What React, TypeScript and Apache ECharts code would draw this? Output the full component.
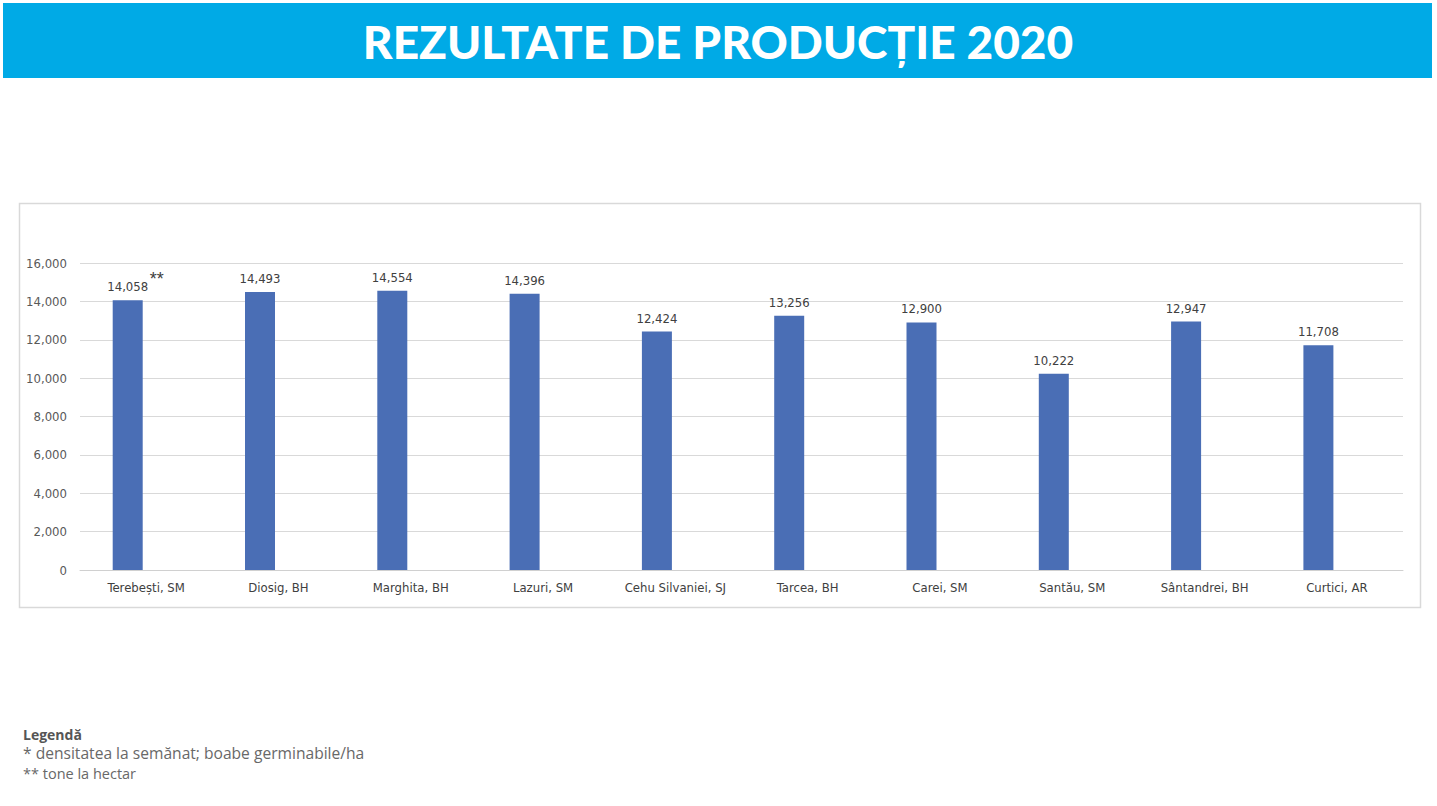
import React, { useEffect, useRef } from "react";
import * as echarts from "echarts";

const TITLE = "REZULTATE DE PRODUCȚIE 2020";
const categories = [
  "Terebești, SM",
  "Diosig, BH",
  "Marghita, BH",
  "Lazuri, SM",
  "Cehu Silvaniei, SJ",
  "Tarcea, BH",
  "Carei, SM",
  "Santău, SM",
  "Sântandrei, BH",
  "Curtici, AR",
];
const production = [14058, 14493, 14554, 14396, 12424, 13256, 12900, 10222, 12947, 11708];
const emptySeries = categories.map(() => null);
const yTicks = { min: 0, max: 16000, interval: 2000 };
const legendTitle = "Legendă";
const legendLines = ["* densitatea la semănat; boabe germinabile/ha", "** tone la hectar"];
const markNote = "**";

const fmt = (v: number) => v.toLocaleString("en-US");

export default function App() {
  const ref = useRef<HTMLDivElement>(null);
  useEffect(() => {
    if (!ref.current) return;
    const chart = echarts.init(ref.current, null, { renderer: "svg" });
    const narrow = "'Liberation Sans Narrow', 'DejaVu Sans Condensed', Arial, sans-serif";
    chart.setOption({
      animation: false,
      backgroundColor: "#ffffff",
      graphic: [
        {
          type: "rect",
          shape: { x: 3, y: 3, width: 1429, height: 75 },
          style: { fill: "#00AAE6" },
          z: 0,
        },
        {
          type: "text",
          x: 718,
          y: 41,
          style: {
            text: TITLE,
            fill: "#ffffff",
            font: "900 46px Lato, 'Open Sans', sans-serif",
            textAlign: "center",
            textVerticalAlign: "middle",
          },
          z: 1,
        },
        {
          type: "rect",
          shape: { x: 19.5, y: 203.5, width: 1401, height: 404 },
          style: { fill: "#ffffff", stroke: "#d9d9d9", lineWidth: 1.5 },
          z: -1,
        },
        {
          type: "text",
          x: 23,
          y: 734,
          style: {
            text: legendTitle,
            fill: "#555555",
            font: "bold 14px 'Open Sans', Lato, sans-serif",
            textVerticalAlign: "middle",
          },
        },
        {
          type: "text",
          x: 23,
          y: 753,
          style: {
            text: legendLines[0],
            fill: "#686868",
            font: "15.6px 'Open Sans', Lato, sans-serif",
            textVerticalAlign: "middle",
          },
        },
        {
          type: "text",
          x: 23,
          y: 773,
          style: {
            text: legendLines[1],
            fill: "#686868",
            font: "14.5px 'Open Sans', Lato, sans-serif",
            textVerticalAlign: "middle",
          },
        },
      ],
      grid: { left: 80, right: 34, top: 263, bottom: 236, containLabel: false },
      xAxis: {
        type: "category",
        data: categories,
        axisLine: { lineStyle: { color: "#d0d0d0", width: 1 } },
        axisTick: { show: false },
        axisLabel: {
          color: "#404040",
          fontFamily: narrow,
          fontSize: 13,
          margin: 11,
          interval: 0,
        },
      },
      yAxis: {
        type: "value",
        min: yTicks.min,
        max: yTicks.max,
        interval: yTicks.interval,
        axisLine: { show: false },
        axisTick: { show: false },
        splitLine: { lineStyle: { color: "#d9d9d9", width: 1 } },
        axisLabel: {
          color: "#595959",
          fontFamily: narrow,
          fontSize: 13,
          margin: 13,
          formatter: (v: number) => fmt(v),
        },
      },
      series: [
        {
          type: "bar",
          data: production,
          barWidth: 30,
          barGap: "23%",
          itemStyle: { color: "#4A6EB5" },
          label: {
            show: true,
            position: "top",
            distance: 7,
            color: "#404040",
            fontFamily: narrow,
            fontSize: 13,
            formatter: (p: any) => fmt(p.value),
          },
          markPoint: {
            symbol: "circle",
            symbolSize: 0,
            data: [
              {
                coord: [0, production[0]],
                label: {
                  show: true,
                  formatter: markNote,
                  position: "inside",
                  offset: [29, -21],
                  color: "#404040",
                  fontSize: 18,
                  fontFamily: "Arial, sans-serif",
                },
              },
            ],
          },
        },
        {
          type: "bar",
          data: emptySeries,
          barWidth: 30,
          itemStyle: { color: "#ED7D31" },
        },
      ],
    });
    return () => chart.dispose();
  }, []);
  return (
    <div
      ref={ref}
      style={{ position: "absolute", left: 0, top: 0, width: 1437, height: 806 }}
    />
  );
}
